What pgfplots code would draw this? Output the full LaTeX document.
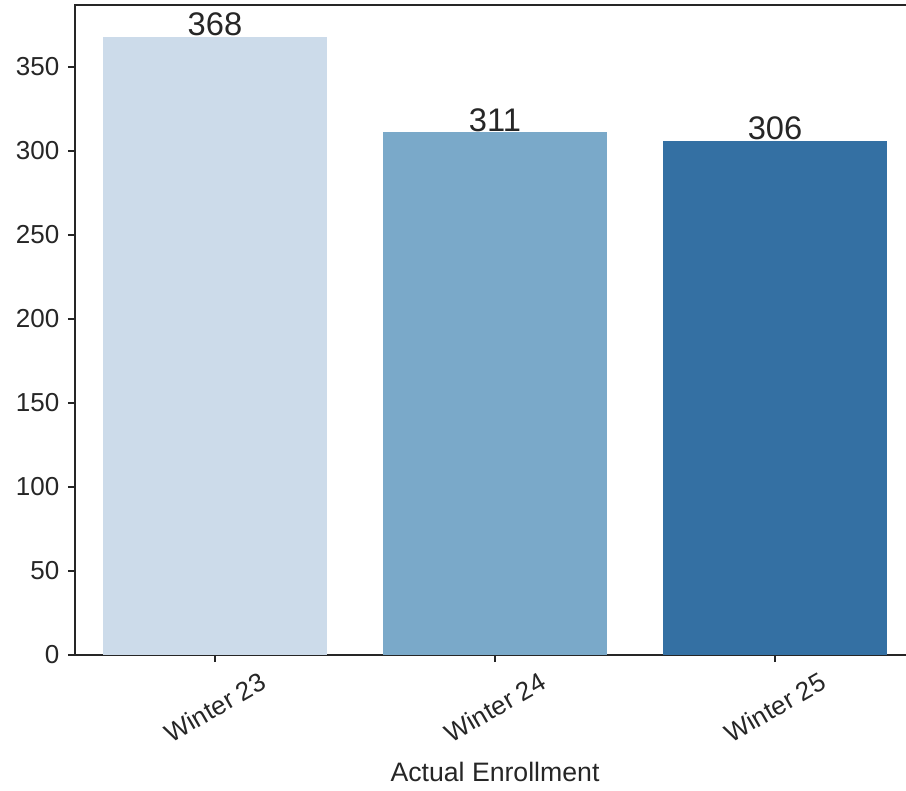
\documentclass[border=0pt]{standalone}
\usepackage{fontspec}
\setmainfont{Liberation Sans}
\usepackage{pgfplots}
\pgfplotsset{compat=1.18}
\definecolor{w23}{RGB}{204,219,234}
\definecolor{w24}{RGB}{122,169,201}
\definecolor{w25}{RGB}{52,112,163}
\definecolor{ink}{RGB}{38,38,38}

\begin{document}
\begin{tikzpicture}
\begin{axis}[
  scale only axis, width=630pt, height=487.5pt,
  xmin=-0.5, xmax=2.5, ymin=0, ymax=386.8,
  ybar, bar width=0.8, bar shift=0pt,
  xtick={0,1,2}, xticklabels={Winter 23,Winter 24,Winter 25},
  ytick={0,50,...,350},
  tick align=outside, tick pos=left, major tick length=5.25pt,
  axis line style={line width=1.1pt, ink},
  major tick style={line width=1.1pt, ink},
  /pgf/number format/assume math mode=true,
  ticklabel style={font=\fontsize{19.5}{23}\selectfont, text=ink},
  yticklabel style={xshift=-3pt},
  xticklabel style={yshift=-34pt, rotate=30, anchor=center},
  xlabel={Actual Enrollment},
  xlabel style={font=\fontsize{20}{24}\selectfont, text=ink,
    at={(axis description cs:0.5,0)}, anchor=center, yshift=-87.75pt},
  nodes near coords,
  every node near coord/.append style={font=\fontsize{24.5}{29}\selectfont,
    text=ink, anchor=base, yshift=1pt},
]
\addplot[fill=w23, draw=none] coordinates {(0,368)};
\addplot[fill=w24, draw=none] coordinates {(1,311)};
\addplot[fill=w25, draw=none] coordinates {(2,306)};
\end{axis}
\pgfresetboundingbox
\path[use as bounding box] (-56.25pt,-101.25pt) rectangle (623.25pt,491.25pt);
\end{tikzpicture}
\end{document}
